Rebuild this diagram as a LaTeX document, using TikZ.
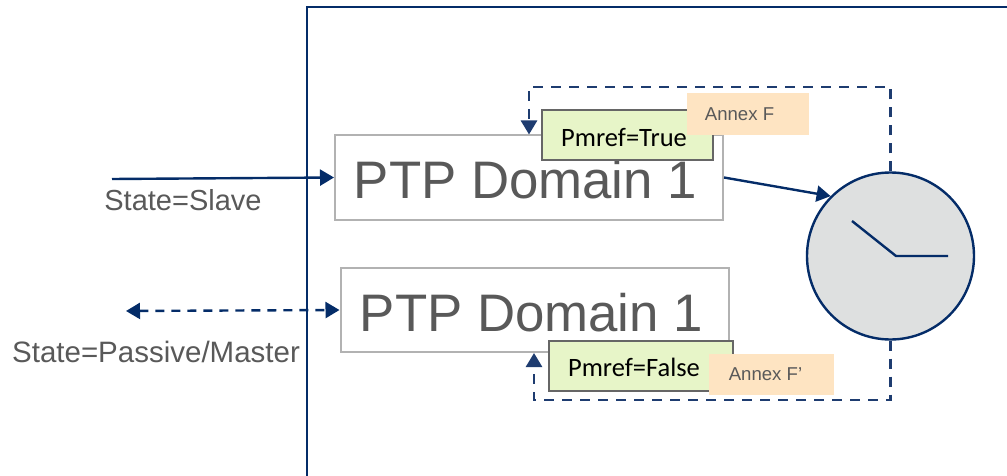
\documentclass[tikz,border=0pt]{standalone}
\usepackage{fontspec}
\setmainfont{Liberation Sans}
\newfontfamily\pmreffont{Carlito}
\usetikzlibrary{positioning,arrows.meta}
\definecolor{linecolor}{RGB}{4, 44, 104}
\definecolor{dashcolor}{RGB}{30, 60, 112}
\definecolor{textcolor}{RGB}{89, 89, 89}
\definecolor{boxcolor}{RGB}{178, 178, 178}
\definecolor{pmrefcolor}{RGB}{231, 245, 200}
\definecolor{annexcolor}{RGB}{254, 228, 194}
\definecolor{clockcolor}{RGB}{222, 224, 224}

\begin{document}
\begin{tikzpicture}[
    x=1pt, y=-1pt,
    ptpbox/.style={rectangle, draw=boxcolor, line width=2pt, fill=white, minimum width=388pt, minimum height=84pt, inner sep=0pt, text=textcolor, font=\fontsize{52.8}{56}\selectfont},
    pmrefbox/.style={rectangle, draw=black!60, line width=2pt, fill=pmrefcolor, minimum height=50pt, inner sep=0pt, font=\pmreffont\fontsize{26.5}{30}\selectfont},
    annexbox/.style={rectangle, fill=annexcolor, text=textcolor, inner sep=0pt, font=\fontsize{18.6}{22}\selectfont},
    statelabel/.style={text=textcolor, inner sep=0pt, font=\fontsize{29}{32}\selectfont},
    arrow/.style={-{Triangle[length=14pt,width=16pt]}, line width=2.4pt, draw=linecolor},
    bothway/.style={{Triangle[length=14pt,width=16pt]}-{Triangle[length=14pt,width=16pt]}, dash pattern=on 9pt off 7pt, line width=2.4pt, draw=linecolor},
    looparrow/.style={-{Triangle[length=14pt,width=16pt]}, dash pattern=on 10pt off 8pt, line width=2.6pt, draw=dashcolor},
    hand/.style={line width=2.4pt, draw=linecolor}
]
\useasboundingbox (0,0) rectangle (1007,476);

% Outer frame
\coordinate (frametop) at (1007,7);
\coordinate (framebottom) at (307,476);
\draw[line width=2.4pt, draw=linecolor] (frametop) -| (framebottom);

% Domains
\node[ptpbox] (domain_a) at (529,177.5) {\hspace{-7pt}\raisebox{-2pt}[\height][0pt]{PTP Domain 1}};
\node[ptpbox, below=46.5pt of domain_a, xshift=5.5pt] (domain_b) {\hspace{-6pt}\raisebox{-2pt}[\height][0pt]{PTP Domain 1}};

% Pmref flags
\node[pmrefbox, minimum width=171pt] (pmref_a) at (627,135) {\hspace{-6pt}\raisebox{-2pt}[\height][0pt]{Pmref=True}};
\node[pmrefbox, minimum width=184pt] (pmref_b) at (640.5,365.5) {\hspace{-13pt}\raisebox{-1.5pt}[\height][0pt]{Pmref=False}};

% Annex labels
\node[annexbox, minimum width=122pt, minimum height=42pt] (annex_a) at (748,114) {\hspace{-17pt}Annex F};
\node[annexbox, minimum width=125pt, minimum height=41pt] (annex_b) at (771.5,374.5) {\hspace{-12pt}Annex F'};

% Clock
\node[circle, draw=linecolor, line width=2.4pt, fill=clockcolor, minimum size=167pt, inner sep=0pt] (clock) at (890.5,256) {};
\coordinate (hub) at (896,256);
\coordinate (hour) at (852,221);
\coordinate (minute) at (948,256);
\draw[hand] (hour) -- (hub) -- (minute);

% State labels
\node[statelabel] (state_a) at (183,200) {State=Slave};
\node[statelabel, font=\fontsize{29.5}{32}\selectfont] (state_b) at (156,352) {State=Passive/Master};

% Arrows
\coordinate (port_a) at (112,179);
\coordinate (port_b) at (126,311);
\draw[arrow] (port_a) -- (domain_a.west);
\draw[bothway] (port_b) -- (domain_b.west);
\draw[arrow] (domain_a.east) -- (clock.135);

% Dashed loops
\coordinate (loop_a) at (529,87);
\coordinate (loop_b) at (534,400);
\draw[looparrow] (clock.north) |- (loop_a) -- (loop_a |- domain_a.north);
\draw[looparrow] (clock.south) |- (loop_b) -- (loop_b |- domain_b.south);

\end{tikzpicture}
\end{document}
